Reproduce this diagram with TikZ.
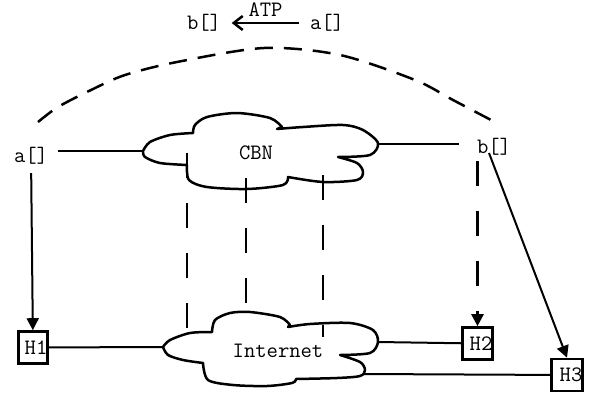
\documentclass[tikz,border=0pt]{standalone}
\usepackage{fontspec}
\usetikzlibrary{arrows.meta}
\begin{document}
\begin{tikzpicture}[x=1pt,y=-1pt,
  txt/.style={font=\ttfamily\fontsize{22}{26}\selectfont},
  lbl/.style={txt, inner sep=6pt, anchor=base},
  toplbl/.style={txt, inner sep=6pt},
  hostbox/.style={txt, draw, line width=2.6pt, minimum width=29.5pt, minimum height=32pt, inner sep=0pt},
  conn/.style={line width=2pt},
  cloudline/.style={line width=2.5pt, line join=round},
  vdash/.style={line width=2.5pt, dash pattern=on 25pt off 25pt},
  arcdash/.style={line width=2.5pt, dash pattern=on 18pt off 11pt},
  tri/.style={-{Triangle[length=12pt,width=12pt]}},
  barb/.style={-{Straight Barb[length=9pt,width=14pt,line width=2.5pt]}}
]
\useasboundingbox (0,0) rectangle (589,394);

% ---------- CBN cloud ----------
\draw[cloudline]
  plot[smooth] coordinates {(143,151) (150,142) (170,135) (193,133)}
  -- plot[smooth] coordinates {(193,133) (195,125) (207,117) (237,113) (270,118) (282,127)}
  -- (277,129)
  -- plot[smooth] coordinates {(277,129) (303,127) (343,125) (363,130) (378,143) (370,155) (338,157)}
  -- plot[smooth] coordinates {(338,157) (357,163) (363,172) (357,180) (323,182) (288,177)}
  -- plot[smooth] coordinates {(288,177) (283,185) (247,189) (207,187) (189,180) (187,165)}
  -- plot[smooth] coordinates {(187,165) (160,163) (145,157) (143,151)}
  -- cycle;
\coordinate (cbnW) at (143,151);
\coordinate (cbnE) at (378,144);
\node[lbl] (cbn) at (256,159) {CBN};

% ---------- Internet cloud ----------
\draw[cloudline]
  plot[smooth] coordinates {(163,347) (170,340) (190,333) (212,332)}
  -- plot[smooth] coordinates {(212,332) (215,320) (230,313) (250,312) (280,317) (290,325)}
  -- (288,327)
  -- plot[smooth] coordinates {(288,327) (310,324) (350,323) (373,330) (378,342) (370,353) (340,355)}
  -- plot[smooth] coordinates {(340,355) (360,362) (365,370) (360,376) (337,378) (296,379)}
  -- plot[smooth] coordinates {(296,379) (292,383) (267,386) (233,385) (208,380) (203,363)}
  -- plot[smooth] coordinates {(203,363) (183,360) (168,355) (163,347)}
  -- cycle;
\coordinate (inetW) at (163,347);
\coordinate (inetE) at (378,342);
\coordinate (inetSE) at (364,374);
\node[lbl] (inet) at (278,357) {Internet};

% ---------- labels ----------
\node[toplbl] (btop) at (204,23) {b[]};
\node[toplbl] (atop) at (327,23) {a[]};
\node[lbl] (aL) at (31,162) {a[]};
\node[lbl] (bR) at (494,153) {b[]};

% ---------- hosts ----------
\node[hostbox] (h1) at (33,347.5) {\hspace*{6pt}H1};
\node[hostbox] (h2) at (477.5,343.5) {\hspace*{7pt}H2};
\node[hostbox] (h3) at (567,375) {\hspace*{8pt}H3};

% ---------- top arrow ----------
\draw[conn, barb, shorten <=4.5pt, shorten >=4.5pt] (atop) -- (btop)
  node[midway, above, toplbl, inner sep=6pt] (atp) {ATP};

% ---------- dashed arc ----------
\coordinate (arcL) at (38,122);
\coordinate (arcR) at (491,120);
\draw[arcdash] plot[smooth] coordinates {(arcL) (58,107) (91,90) (125,75) (177,62) (264,48) (340,55) (415,80) (453,100) (arcR)};

% ---------- solid connectors ----------
\draw[conn, shorten <=4pt] (aL.east |- cbnW) -- (cbnW);
\draw[conn, shorten >=12pt] (cbnE) -- (bR.west |- cbnE);
\draw[conn, tri, shorten <=3pt] (aL) -- (h1);
\draw[conn, tri] ([xshift=-5pt]bR.base) -- (h3.north);
\draw[conn] (h1) -- (inetW);
\draw[conn] (inetE) -- (h2);
\draw[conn] (inetSE) -- (h3);

% ---------- dashed verticals ----------
\coordinate (c1) at (187,153);
\coordinate (i1) at (187,330);
\coordinate (c2) at (246,178);
\coordinate (i2) at (246,303);
\coordinate (c3) at (323,175);
\coordinate (i3) at (323,337);
\draw[vdash] (c1) -- (i1);
\draw[vdash] (c2) -- (i2);
\draw[vdash] (c3) -- (i3);
\draw[vdash, tri] (h2 |- bR.south) -- (h2.north);
\end{tikzpicture}
\end{document}
